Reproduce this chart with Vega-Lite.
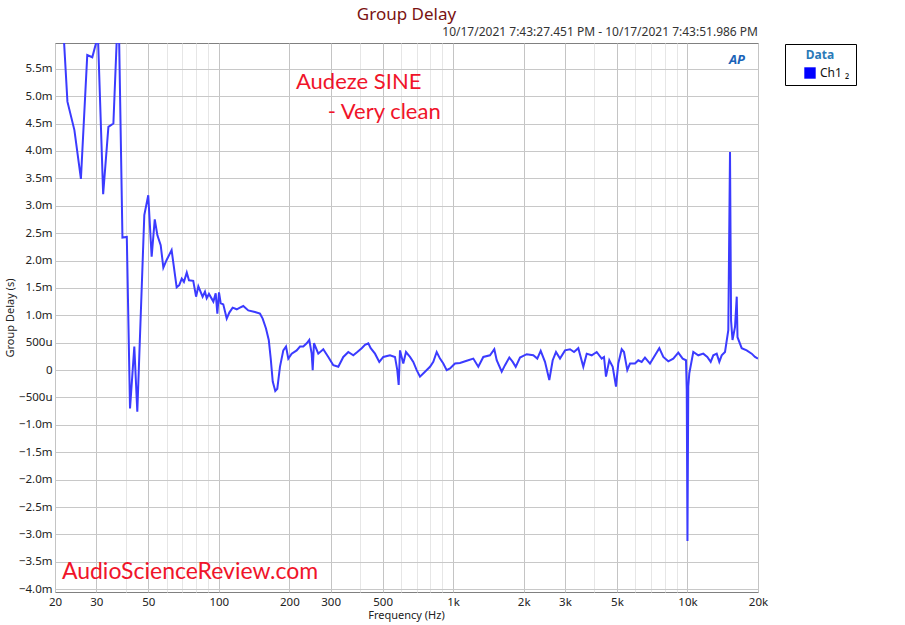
{
  "$schema": "https://vega.github.io/schema/vega-lite/v6.json",
  "width": 703,
  "height": 549,
  "autosize": {"type": "none"},
  "padding": {"left": 55, "top": 43, "right": 147, "bottom": 33},
  "background": "white",
  "config": {"view": {"stroke": "#808080", "strokeWidth": 1}, "font": "Noto Sans"},
  "datasets": {
    "trace": [
      {"freq": 20, "delay": 8.9, "ch": "Ch1 ₂"},
      {"freq": 22.6, "delay": 4.90, "ch": "Ch1 ₂"},
      {"freq": 24.2, "delay": 4.38, "ch": "Ch1 ₂"},
      {"freq": 25.8, "delay": 3.49, "ch": "Ch1 ₂"},
      {"freq": 27.46, "delay": 5.75, "ch": "Ch1 ₂"},
      {"freq": 28.85, "delay": 5.71, "ch": "Ch1 ₂"},
      {"freq": 30.5, "delay": 6.1, "ch": "Ch1 ₂"},
      {"freq": 32.1, "delay": 3.21, "ch": "Ch1 ₂"},
      {"freq": 33.8, "delay": 4.44, "ch": "Ch1 ₂"},
      {"freq": 35.5, "delay": 4.50, "ch": "Ch1 ₂"},
      {"freq": 37.3, "delay": 6.8, "ch": "Ch1 ₂"},
      {"freq": 38.8, "delay": 2.42, "ch": "Ch1 ₂"},
      {"freq": 40.5, "delay": 2.43, "ch": "Ch1 ₂"},
      {"freq": 41.8, "delay": -0.70, "ch": "Ch1 ₂"},
      {"freq": 43.6, "delay": 0.43, "ch": "Ch1 ₂"},
      {"freq": 44.9, "delay": -0.76, "ch": "Ch1 ₂"},
      {"freq": 48.1, "delay": 2.83, "ch": "Ch1 ₂"},
      {"freq": 50.0, "delay": 3.19, "ch": "Ch1 ₂"},
      {"freq": 51.7, "delay": 2.07, "ch": "Ch1 ₂"},
      {"freq": 53.3, "delay": 2.75, "ch": "Ch1 ₂"},
      {"freq": 54.7, "delay": 2.46, "ch": "Ch1 ₂"},
      {"freq": 56.5, "delay": 2.28, "ch": "Ch1 ₂"},
      {"freq": 58.0, "delay": 1.87, "ch": "Ch1 ₂"},
      {"freq": 59.9, "delay": 2.01, "ch": "Ch1 ₂"},
      {"freq": 62.9, "delay": 2.19, "ch": "Ch1 ₂"},
      {"freq": 66.1, "delay": 1.51, "ch": "Ch1 ₂"},
      {"freq": 67.8, "delay": 1.55, "ch": "Ch1 ₂"},
      {"freq": 69.5, "delay": 1.67, "ch": "Ch1 ₂"},
      {"freq": 71.0, "delay": 1.61, "ch": "Ch1 ₂"},
      {"freq": 73.0, "delay": 1.78, "ch": "Ch1 ₂"},
      {"freq": 74.6, "delay": 1.64, "ch": "Ch1 ₂"},
      {"freq": 77.8, "delay": 1.63, "ch": "Ch1 ₂"},
      {"freq": 80.0, "delay": 1.34, "ch": "Ch1 ₂"},
      {"freq": 81.8, "delay": 1.53, "ch": "Ch1 ₂"},
      {"freq": 85.3, "delay": 1.34, "ch": "Ch1 ₂"},
      {"freq": 87.3, "delay": 1.43, "ch": "Ch1 ₂"},
      {"freq": 88.8, "delay": 1.31, "ch": "Ch1 ₂"},
      {"freq": 90.8, "delay": 1.39, "ch": "Ch1 ₂"},
      {"freq": 94.8, "delay": 1.25, "ch": "Ch1 ₂"},
      {"freq": 97.0, "delay": 1.40, "ch": "Ch1 ₂"},
      {"freq": 98.6, "delay": 1.03, "ch": "Ch1 ₂"},
      {"freq": 100.2, "delay": 1.42, "ch": "Ch1 ₂"},
      {"freq": 101.9, "delay": 1.22, "ch": "Ch1 ₂"},
      {"freq": 104.5, "delay": 1.20, "ch": "Ch1 ₂"},
      {"freq": 108.1, "delay": 0.94, "ch": "Ch1 ₂"},
      {"freq": 110.9, "delay": 1.05, "ch": "Ch1 ₂"},
      {"freq": 114.6, "delay": 1.14, "ch": "Ch1 ₂"},
      {"freq": 119.3, "delay": 1.11, "ch": "Ch1 ₂"},
      {"freq": 123.1, "delay": 1.14, "ch": "Ch1 ₂"},
      {"freq": 127.2, "delay": 1.17, "ch": "Ch1 ₂"},
      {"freq": 133.6, "delay": 1.09, "ch": "Ch1 ₂"},
      {"freq": 142.7, "delay": 1.06, "ch": "Ch1 ₂"},
      {"freq": 149.9, "delay": 1.03, "ch": "Ch1 ₂"},
      {"freq": 153.9, "delay": 0.94, "ch": "Ch1 ₂"},
      {"freq": 159.0, "delay": 0.76, "ch": "Ch1 ₂"},
      {"freq": 163.4, "delay": 0.55, "ch": "Ch1 ₂"},
      {"freq": 166.6, "delay": 0.21, "ch": "Ch1 ₂"},
      {"freq": 169.9, "delay": -0.21, "ch": "Ch1 ₂"},
      {"freq": 174.2, "delay": -0.38, "ch": "Ch1 ₂"},
      {"freq": 177.7, "delay": -0.34, "ch": "Ch1 ₂"},
      {"freq": 182.4, "delay": 0.06, "ch": "Ch1 ₂"},
      {"freq": 188.5, "delay": 0.36, "ch": "Ch1 ₂"},
      {"freq": 193.6, "delay": 0.43, "ch": "Ch1 ₂"},
      {"freq": 198.0, "delay": 0.21, "ch": "Ch1 ₂"},
      {"freq": 204.7, "delay": 0.30, "ch": "Ch1 ₂"},
      {"freq": 215.0, "delay": 0.36, "ch": "Ch1 ₂"},
      {"freq": 222.1, "delay": 0.43, "ch": "Ch1 ₂"},
      {"freq": 229.4, "delay": 0.43, "ch": "Ch1 ₂"},
      {"freq": 237.2, "delay": 0.49, "ch": "Ch1 ₂"},
      {"freq": 243.3, "delay": 0.55, "ch": "Ch1 ₂"},
      {"freq": 249.1, "delay": 0.30, "ch": "Ch1 ₂"},
      {"freq": 251.6, "delay": 0.0, "ch": "Ch1 ₂"},
      {"freq": 254.8, "delay": 0.49, "ch": "Ch1 ₂"},
      {"freq": 265.8, "delay": 0.30, "ch": "Ch1 ₂"},
      {"freq": 279.2, "delay": 0.38, "ch": "Ch1 ₂"},
      {"freq": 293.3, "delay": 0.24, "ch": "Ch1 ₂"},
      {"freq": 308.1, "delay": 0.09, "ch": "Ch1 ₂"},
      {"freq": 323.6, "delay": 0.06, "ch": "Ch1 ₂"},
      {"freq": 339.9, "delay": 0.24, "ch": "Ch1 ₂"},
      {"freq": 357.0, "delay": 0.33, "ch": "Ch1 ₂"},
      {"freq": 375.0, "delay": 0.27, "ch": "Ch1 ₂"},
      {"freq": 390.0, "delay": 0.33, "ch": "Ch1 ₂"},
      {"freq": 407.3, "delay": 0.40, "ch": "Ch1 ₂"},
      {"freq": 420.7, "delay": 0.46, "ch": "Ch1 ₂"},
      {"freq": 434.6, "delay": 0.49, "ch": "Ch1 ₂"},
      {"freq": 444.9, "delay": 0.40, "ch": "Ch1 ₂"},
      {"freq": 464.1, "delay": 0.30, "ch": "Ch1 ₂"},
      {"freq": 484.1, "delay": 0.15, "ch": "Ch1 ₂"},
      {"freq": 503.6, "delay": 0.24, "ch": "Ch1 ₂"},
      {"freq": 537.8, "delay": 0.27, "ch": "Ch1 ₂"},
      {"freq": 564.8, "delay": 0.24, "ch": "Ch1 ₂"},
      {"freq": 577.7, "delay": 0.0, "ch": "Ch1 ₂"},
      {"freq": 585.7, "delay": -0.27, "ch": "Ch1 ₂"},
      {"freq": 593.3, "delay": 0.36, "ch": "Ch1 ₂"},
      {"freq": 612.8, "delay": 0.12, "ch": "Ch1 ₂"},
      {"freq": 629.3, "delay": 0.33, "ch": "Ch1 ₂"},
      {"freq": 654.5, "delay": 0.24, "ch": "Ch1 ₂"},
      {"freq": 676.1, "delay": 0.15, "ch": "Ch1 ₂"},
      {"freq": 699.1, "delay": 0.0, "ch": "Ch1 ₂"},
      {"freq": 722.1, "delay": -0.12, "ch": "Ch1 ₂"},
      {"freq": 758.5, "delay": -0.03, "ch": "Ch1 ₂"},
      {"freq": 796.7, "delay": 0.06, "ch": "Ch1 ₂"},
      {"freq": 823.0, "delay": 0.15, "ch": "Ch1 ₂"},
      {"freq": 850.9, "delay": 0.33, "ch": "Ch1 ₂"},
      {"freq": 879.0, "delay": 0.21, "ch": "Ch1 ₂"},
      {"freq": 908.0, "delay": 0.12, "ch": "Ch1 ₂"},
      {"freq": 938.8, "delay": 0.0, "ch": "Ch1 ₂"},
      {"freq": 969.8, "delay": 0.03, "ch": "Ch1 ₂"},
      {"freq": 1018.6, "delay": 0.12, "ch": "Ch1 ₂"},
      {"freq": 1069.9, "delay": 0.13, "ch": "Ch1 ₂"},
      {"freq": 1142.7, "delay": 0.17, "ch": "Ch1 ₂"},
      {"freq": 1219.3, "delay": 0.21, "ch": "Ch1 ₂"},
      {"freq": 1280.7, "delay": 0.06, "ch": "Ch1 ₂"},
      {"freq": 1345.2, "delay": 0.24, "ch": "Ch1 ₂"},
      {"freq": 1436.6, "delay": 0.27, "ch": "Ch1 ₂"},
      {"freq": 1498.7, "delay": 0.38, "ch": "Ch1 ₂"},
      {"freq": 1534.5, "delay": 0.18, "ch": "Ch1 ₂"},
      {"freq": 1611.8, "delay": -0.03, "ch": "Ch1 ₂"},
      {"freq": 1664.9, "delay": 0.09, "ch": "Ch1 ₂"},
      {"freq": 1736.8, "delay": 0.23, "ch": "Ch1 ₂"},
      {"freq": 1795.9, "delay": 0.15, "ch": "Ch1 ₂"},
      {"freq": 1849.6, "delay": 0.06, "ch": "Ch1 ₂"},
      {"freq": 1929.5, "delay": 0.23, "ch": "Ch1 ₂"},
      {"freq": 2060.4, "delay": 0.29, "ch": "Ch1 ₂"},
      {"freq": 2198.4, "delay": 0.27, "ch": "Ch1 ₂"},
      {"freq": 2286.4, "delay": 0.21, "ch": "Ch1 ₂"},
      {"freq": 2364.2, "delay": 0.35, "ch": "Ch1 ₂"},
      {"freq": 2466.4, "delay": 0.15, "ch": "Ch1 ₂"},
      {"freq": 2572.8, "delay": -0.18, "ch": "Ch1 ₂"},
      {"freq": 2660.2, "delay": 0.18, "ch": "Ch1 ₂"},
      {"freq": 2748, "delay": 0.33, "ch": "Ch1 ₂"},
      {"freq": 2858, "delay": 0.21, "ch": "Ch1 ₂"},
      {"freq": 3002.6, "delay": 0.36, "ch": "Ch1 ₂"},
      {"freq": 3153.6, "delay": 0.38, "ch": "Ch1 ₂"},
      {"freq": 3279.8, "delay": 0.33, "ch": "Ch1 ₂"},
      {"freq": 3421.6, "delay": 0.40, "ch": "Ch1 ₂"},
      {"freq": 3594, "delay": 0.06, "ch": "Ch1 ₂"},
      {"freq": 3716, "delay": 0.30, "ch": "Ch1 ₂"},
      {"freq": 3903, "delay": 0.27, "ch": "Ch1 ₂"},
      {"freq": 4099, "delay": 0.33, "ch": "Ch1 ₂"},
      {"freq": 4305, "delay": 0.21, "ch": "Ch1 ₂"},
      {"freq": 4404, "delay": 0.24, "ch": "Ch1 ₂"},
      {"freq": 4491, "delay": -0.12, "ch": "Ch1 ₂"},
      {"freq": 4639, "delay": 0.18, "ch": "Ch1 ₂"},
      {"freq": 4797, "delay": 0.06, "ch": "Ch1 ₂"},
      {"freq": 4955, "delay": -0.30, "ch": "Ch1 ₂"},
      {"freq": 5068, "delay": 0.12, "ch": "Ch1 ₂"},
      {"freq": 5240, "delay": 0.38, "ch": "Ch1 ₂"},
      {"freq": 5360, "delay": 0.33, "ch": "Ch1 ₂"},
      {"freq": 5536, "delay": 0.0, "ch": "Ch1 ₂"},
      {"freq": 5686, "delay": 0.12, "ch": "Ch1 ₂"},
      {"freq": 5972, "delay": 0.12, "ch": "Ch1 ₂"},
      {"freq": 6168, "delay": 0.18, "ch": "Ch1 ₂"},
      {"freq": 6378, "delay": 0.15, "ch": "Ch1 ₂"},
      {"freq": 6588, "delay": 0.23, "ch": "Ch1 ₂"},
      {"freq": 6920, "delay": 0.12, "ch": "Ch1 ₂"},
      {"freq": 7270, "delay": 0.27, "ch": "Ch1 ₂"},
      {"freq": 7584, "delay": 0.40, "ch": "Ch1 ₂"},
      {"freq": 7888, "delay": 0.24, "ch": "Ch1 ₂"},
      {"freq": 8284, "delay": 0.16, "ch": "Ch1 ₂"},
      {"freq": 8700, "delay": 0.21, "ch": "Ch1 ₂"},
      {"freq": 9138, "delay": 0.32, "ch": "Ch1 ₂"},
      {"freq": 9542, "delay": 0.21, "ch": "Ch1 ₂"},
      {"freq": 9856, "delay": 0.18, "ch": "Ch1 ₂"},
      {"freq": 9930, "delay": -0.35, "ch": "Ch1 ₂"},
      {"freq": 10000, "delay": -3.12, "ch": "Ch1 ₂"},
      {"freq": 10080, "delay": -0.3, "ch": "Ch1 ₂"},
      {"freq": 10182, "delay": -0.06, "ch": "Ch1 ₂"},
      {"freq": 10590, "delay": 0.33, "ch": "Ch1 ₂"},
      {"freq": 11124, "delay": 0.27, "ch": "Ch1 ₂"},
      {"freq": 11684, "delay": 0.30, "ch": "Ch1 ₂"},
      {"freq": 12152, "delay": 0.24, "ch": "Ch1 ₂"},
      {"freq": 12566, "delay": 0.15, "ch": "Ch1 ₂"},
      {"freq": 12890, "delay": 0.27, "ch": "Ch1 ₂"},
      {"freq": 13328, "delay": 0.30, "ch": "Ch1 ₂"},
      {"freq": 13674, "delay": 0.15, "ch": "Ch1 ₂"},
      {"freq": 14000, "delay": 0.27, "ch": "Ch1 ₂"},
      {"freq": 14462, "delay": 0.33, "ch": "Ch1 ₂"},
      {"freq": 14938, "delay": 0.73, "ch": "Ch1 ₂"},
      {"freq": 15190, "delay": 3.98, "ch": "Ch1 ₂"},
      {"freq": 15350, "delay": 0.9, "ch": "Ch1 ₂"},
      {"freq": 15568, "delay": 0.55, "ch": "Ch1 ₂"},
      {"freq": 15956, "delay": 0.79, "ch": "Ch1 ₂"},
      {"freq": 16230, "delay": 1.34, "ch": "Ch1 ₂"},
      {"freq": 16352, "delay": 0.6, "ch": "Ch1 ₂"},
      {"freq": 17040, "delay": 0.40, "ch": "Ch1 ₂"},
      {"freq": 17896, "delay": 0.36, "ch": "Ch1 ₂"},
      {"freq": 18798, "delay": 0.30, "ch": "Ch1 ₂"},
      {"freq": 19418, "delay": 0.24, "ch": "Ch1 ₂"},
      {"freq": 20000, "delay": 0.21, "ch": "Ch1 ₂"}
    ]
  },
  "layer": [
    {
      "data": {"name": "trace"},
      "mark": {"type": "line", "clip": true, "strokeWidth": 2, "interpolate": "linear"},
      "encoding": {
        "x": {
          "field": "freq", "type": "quantitative",
          "scale": {"type": "log", "domain": [20, 20000], "nice": false},
          "axis": {
            "title": "Frequency (Hz)",
            "titleFontSize": 11, "titleFontWeight": "normal", "titleColor": "#222", "titlePadding": 2,
            "titleX": 351,
            "tickCount": 60,
            "values": [20, 30, 40, 50, 60, 70, 80, 90, 100, 200, 300, 400, 500, 600, 700, 800, 900, 1000, 2000, 3000, 4000, 5000, 6000, 7000, 8000, 9000, 10000, 20000],
            "labelExpr": "indexof([20,30,50,100,200,300,500,1000,2000,3000,5000,10000,20000], datum.value) >= 0 ? (datum.value >= 1000 ? (datum.value/1000) + 'k' : datum.value + '') : ''",
            "labelFontSize": 11.5, "labelColor": "#222", "labelPadding": 4, "labelOverlap": false, "labelFlush": false,
            "ticks": false, "domain": false,
            "gridColor": {"condition": {"test": "indexof([20,30,50,100,200,300,500,1000,2000,3000,5000,10000,20000], datum.value) >= 0", "value": "#c4c4c4"}, "value": "#e6e6e6"},
            "gridWidth": 1
          }
        },
        "y": {
          "field": "delay", "type": "quantitative",
          "scale": {"domain": [-4.05, 5.97], "nice": false, "zero": false},
          "axis": {
            "title": "Group Delay (s)",
            "titleFontSize": 11, "titleFontWeight": "normal", "titleColor": "#222", "titlePadding": 3,
            "tickCount": 60,
            "values": [-4, -3.5, -3, -2.5, -2, -1.5, -1, -0.5, 0, 0.5, 1, 1.5, 2, 2.5, 3, 3.5, 4, 4.5, 5, 5.5],
            "labelExpr": "datum.value == 0 ? '0' : (abs(datum.value) < 1 ? format(datum.value * 1000, 'd') + 'u' : format(datum.value, '.1f') + 'm')",
            "labelFontSize": 11.5, "labelColor": "#222", "labelPadding": 3, "labelOverlap": false,
            "ticks": false, "domain": false,
            "gridColor": "#c8c8c8", "gridWidth": 1
          }
        },
        "color": {
          "field": "ch", "type": "nominal",
          "scale": {"range": ["#3b3bff"]},
          "legend": {
            "title": "Data", "orient": "none", "legendX": 730, "legendY": 1,
            "symbolType": "square", "symbolSize": 130, "symbolStrokeWidth": 0, "symbolOffset": 13,
            "titleFontSize": 12, "titleFontWeight": "bold", "titleColor": "#2a7ab8", "titleAnchor": "middle",
            "labelFontSize": 12, "labelColor": "#111", "labelLimit": 300,
            "labelExpr": "datum.label + '\u2003\u2003\u2003\u2003'",
            "fillColor": "white", "strokeColor": "#000", "padding": 6,
            "encode": {"symbols": {"update": {"fill": {"value": "#0000ff"}, "stroke": {"value": "#0000ff"}}}}
          }
        }
      }
    },
    {
      "data": {"values": [
        {"freq": 632.5, "delay": 6.39, "label": "Group Delay"}
      ]},
      "mark": {"type": "text", "align": "center", "baseline": "alphabetic", "font": "Noto Sans", "fontSize": 17, "color": "#7a1212"},
      "encoding": {
        "x": {"field": "freq", "type": "quantitative"},
        "y": {"field": "delay", "type": "quantitative"},
        "text": {"field": "label"}
      }
    },
    {
      "data": {"values": [
        {"freq": 213.5, "delay": 5.26, "label": "Audeze SINE"},
        {"freq": 292, "delay": 4.71, "label": "- Very clean"}
      ]},
      "mark": {"type": "text", "align": "left", "baseline": "middle", "font": "Lato", "fontSize": 22, "color": "#f0142a"},
      "encoding": {
        "x": {"field": "freq", "type": "quantitative"},
        "y": {"field": "delay", "type": "quantitative"},
        "text": {"field": "label"}
      }
    },
    {
      "data": {"values": [
        {"freq": 21.4, "delay": -3.69, "label": "AudioScienceReview.com"}
      ]},
      "mark": {"type": "text", "align": "left", "baseline": "middle", "font": "Lato", "fontSize": 23, "color": "#f0142a"},
      "encoding": {
        "x": {"field": "freq", "type": "quantitative"},
        "y": {"field": "delay", "type": "quantitative"},
        "text": {"field": "label"}
      }
    },
    {
      "data": {"values": [
        {"freq": 20000, "delay": 6.1, "label": "10/17/2021 7:43:27.451 PM - 10/17/2021 7:43:51.986 PM"}
      ]},
      "mark": {"type": "text", "align": "right", "baseline": "alphabetic", "font": "Noto Sans", "fontSize": 12, "color": "#333"},
      "encoding": {
        "x": {"field": "freq", "type": "quantitative"},
        "y": {"field": "delay", "type": "quantitative"},
        "text": {"field": "label"}
      }
    },
    {
      "data": {"values": [
        {"freq": 16271, "delay": 5.66, "label": "AP"}
      ]},
      "mark": {"type": "text", "align": "center", "baseline": "middle", "font": "Noto Sans", "fontSize": 13, "fontStyle": "italic", "fontWeight": "bold", "color": "#1a63b8"},
      "encoding": {
        "x": {"field": "freq", "type": "quantitative"},
        "y": {"field": "delay", "type": "quantitative"},
        "text": {"field": "label"}
      }
    }
  ]
}
